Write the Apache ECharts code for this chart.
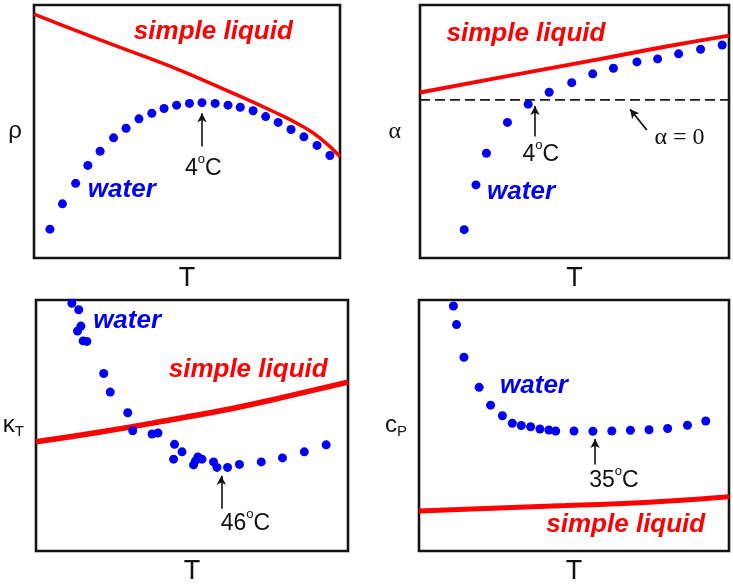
<!DOCTYPE html>
<html><head><meta charset="utf-8">
<script src="https://cdn.jsdelivr.net/npm/echarts@6/dist/echarts.min.js"></script>
<style>html,body{margin:0;padding:0;background:#fff}#c{width:733px;height:586px}</style>
</head><body><div id="c"></div>
<script>
// ---- data (positions in percent of each panel's T / property range; arbitrary units) ----
const rhoWater = [[5.2,11.4],[9.3,21.4],[13.6,29.5],[17.6,36.6],[21.6,42.2],[26.0,47.5],[30.1,51.3],[34.3,55.0],[38.5,57.2],[42.5,59.1],[46.6,60.4],[50.8,61.1],[54.9,61.4],[59.2,61.1],[63.4,60.4],[67.4,59.6],[71.6,58.2],[75.7,55.9],[79.8,53.6],[84.0,50.8],[88.2,47.9],[92.5,44.5],[96.7,40.5]];
const rhoSimple = [[0,96.4],[21.6,86.2],[43.4,76.3],[65.1,65.1],[78.2,57.9],[86.9,52.6],[93.5,47.4],[100,40.1]];

const alphaWater = [[14.3,11.2],[18.1,28.9],[21.5,41.4],[28.3,53.6],[35.0,60.8],[41.8,65.5],[49.1,69.3],[55.9,72.8],[62.6,75.0],[70.2,77.5],[76.9,78.7],[83.7,80.7],[90.8,82.5],[97.8,84.2]];
const alphaSimple = [[0,65.4],[25.6,71.3],[58.1,78.6],[79.7,83.6],[100,87.9]];
const alphaZero = 62.5;

const kappaWater = [[11.5,98.7],[13.7,96.1],[14.4,89.6],[13.3,87.6],[15.1,83.7],[16.3,83.5],[21.7,70.7],[23.8,63.3],[29.4,55.1],[31.0,47.9],[37.2,46.6],[39.1,47.0],[44.4,42.5],[46.8,39.5],[44.1,36.6],[50.5,34.3],[51.9,37.5],[53.2,36.6],[51.1,35.9],[56.9,35.5],[58.0,33.3],[61.4,33.3],[65.2,34.5],[72.2,35.5],[79.0,37.1],[86.0,39.5],[93.0,42.3]];
const kappaSimple = [[0,43.5],[20.6,47.4],[42.0,52.0],[63.3,56.9],[79.4,61.3],[100,67.3]];

const cpWater = [[11.1,97.6],[12.1,90.2],[14.5,77.2],[19.4,65.2],[23.1,58.1],[26.9,53.9],[30.1,50.9],[33.0,50.0],[36.0,49.5],[39.0,48.6],[41.9,48.2],[44.1,47.8],[50.0,47.8],[56.1,47.7],[62.2,47.8],[68.2,48.1],[74.2,48.3],[80.2,48.8],[86.6,50.1],[92.5,51.8]];
const cpSimple = [[0,15.9],[47.3,18.1],[74.2,19.4],[100,21.6]];

const xName = 'T';
const yNames = ['ρ', 'α', '{k|κ}{t|T}', '{k|c}{t|P}'];
const extremaLabels = ['4{s|o}C', '4{s|o}C', '46{s|o}C', '35{s|o}C'];
const waterText = 'water';
const simpleText = 'simple liquid';
const zeroText = 'α = 0';

// ---- layout / styles ----
const RED = '#ff0000', BLUE = '#0000f5', INK = '#111';
const grids = [
  {left:34, top:5, width:306, height:253},
  {left:420, top:5, width:309, height:253},
  {left:36, top:300, width:312, height:256},
  {left:419, top:300, width:310, height:258}
];
const panels = [
  {water:rhoWater, simple:rhoSimple, lw:3.5, simplePos:[58.6,89.5], waterPos:[28.7,27.0], tPos:[55.3,35.5], arrow:[[54.9,44.1],[54.9,57.2]], yGap:12, yFont:'Liberation Sans'},
  {water:alphaWater, simple:alphaSimple, lw:4, simplePos:[34.3,88.8], waterPos:[32.7,26.3], tPos:[39.1,40.8], arrow:[[37.2,48.0],[37.2,60.1]], yGap:19, yFont:'Liberation Serif'},
  {water:kappaWater, simple:kappaSimple, lw:5.5, simplePos:[68.0,72.1], waterPos:[29.2,91.7], tPos:[67.1,10.9], arrow:[[59.4,16.8],[59.4,30.0]], yGap:12, yFont:'Liberation Sans'},
  {water:cpWater, simple:cpSimple, lw:5, simplePos:[66.7,10.3], waterPos:[37.1,65.9], tPos:[62.9,28.0], arrow:[[56.8,34.5],[56.8,44.6]], yGap:12, yFont:'Liberation Sans'}
];

const hidden = {axisLine:{show:false}, axisTick:{show:false}, axisLabel:{show:false}, splitLine:{show:false}};
const option = {
  animation:false,
  backgroundColor:'#fff',
  grid: grids.map(g => Object.assign({show:true, borderColor:'#141414', borderWidth:2.6, backgroundColor:'transparent'}, g)),
  xAxis: grids.map((g,i) => Object.assign({type:'value', gridIndex:i, min:0, max:100, name:xName, nameLocation:'middle', nameGap:7,
    nameTextStyle:{fontSize:27, color:INK, fontFamily:'Liberation Sans', verticalAlign:'top'}}, hidden)),
  yAxis: grids.map((g,i) => Object.assign({type:'value', gridIndex:i, min:0, max:100, name:yNames[i], nameLocation:'middle', nameRotate:0, nameGap:panels[i].yGap,
    nameTextStyle:{fontSize:24, color:INK, fontFamily:panels[i].yFont, align:'right',
      rich:{k:{fontSize:24, color:INK, fontFamily:'Liberation Sans'}, t:{fontSize:15, color:INK, fontFamily:'Liberation Sans', padding:[12,0,0,0]}}}}, hidden)),
  series: []
};

panels.forEach((p,i) => {
  option.series.push({type:'line', xAxisIndex:i, yAxisIndex:i, data:p.simple, smooth:true, showSymbol:false, silent:true,
    lineStyle:{color:RED, width:p.lw}, z:2});
  if (i === 1) {
    option.series.push({type:'line', xAxisIndex:i, yAxisIndex:i, data:[[0,alphaZero],[100,alphaZero]], showSymbol:false, silent:true,
      lineStyle:{color:'#1a1a1a', width:1.6, type:[10,5]}, z:1});
  }
  const water = {type:'scatter', xAxisIndex:i, yAxisIndex:i, data:p.water, symbolSize:9, silent:true,
    itemStyle:{color:BLUE, opacity:1}, z:3,
    markLine:{silent:true, symbol:['none','arrow'], symbolSize:[7,9], label:{show:false},
      lineStyle:{color:INK, width:1.6, type:'solid'},
      data:[[{coord:p.arrow[0]},{coord:p.arrow[1]}]]}};
  if (i === 1) {
    water.markLine.data.push([{coord:[73.4,50.6], lineStyle:{width:1.8}},{coord:[68.0,58.8]}]);
  }
  option.series.push(water);
  const labels = [
    {value:p.simplePos, label:{formatter:simpleText, color:RED, fontSize:26, fontWeight:'bold', fontStyle:'italic', fontFamily:'Liberation Sans'}},
    {value:p.waterPos, label:{formatter:waterText, color:BLUE, fontSize:26, fontWeight:'bold', fontStyle:'italic', fontFamily:'Liberation Sans'}},
    {value:p.tPos, label:{formatter:extremaLabels[i], color:INK, fontSize:23, fontFamily:'Liberation Sans',
      rich:{s:{fontSize:13, color:INK, padding:[0,0,18,0], fontFamily:'Liberation Sans'}}}}
  ];
  if (i === 1) labels.push({value:[84.0,47.4], label:{formatter:zeroText, color:INK, fontSize:24, fontFamily:'Liberation Serif'}});
  option.series.push({type:'scatter', xAxisIndex:i, yAxisIndex:i, data:labels, symbolSize:0, silent:true, z:4,
    itemStyle:{opacity:1}, label:{show:true, position:'inside', opacity:1}});
});

const chart = echarts.init(document.getElementById('c'), null, {renderer:'canvas'});
chart.setOption(option);
</script></body></html>
